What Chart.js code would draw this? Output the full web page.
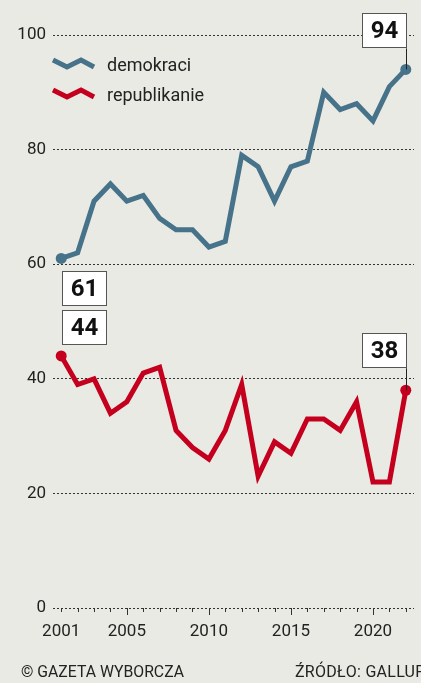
<!DOCTYPE html>
<html><head><meta charset="utf-8">
<style>html,body{margin:0;padding:0;background:#eaeae4;}canvas{display:block}</style>
<script src="https://cdn.jsdelivr.net/npm/chart.js@4"></script>
</head><body>
<canvas id="c" width="421" height="683"></canvas>
<script>
const years = ['2001','2002','2003','2004','2005','2006','2007','2008','2009','2010','2011','2012','2013','2014','2015','2016','2017','2018','2019','2020','2021','2022'];
const demokraci = [61,62,71,74,71,72,68,66,66,63,64,79,77,71,77,78,90,87,88,85,91,94];
const republikanie = [44,39,40,34,36,41,42,31,28,26,31,39,23,29,27,33,33,31,36,22,22,38];
const yTicks = [0,20,40,60,80,100];
const xLabelYears = ['2001','2005','2010','2015','2020'];
const majorYears = ['2005','2010','2015','2020'];
const seriesNames = ['demokraci','republikanie'];
const footerLeft = '© GAZETA WYBORCZA';
const footerRight = 'ŹRÓDŁO: GALLUP';

const BLUE = '#46728a';
const RED = '#c4001e';
const BG = '#eaeae4';
const FONT = "Roboto, 'Open Sans', sans-serif";

const endRadius = c => (c.dataIndex === 0 || c.dataIndex === years.length - 1) ? 5.5 : 0;

const bgPlugin = {
  id: 'bg',
  beforeDraw(chart) {
    const ctx = chart.ctx;
    ctx.save();
    ctx.fillStyle = BG;
    ctx.fillRect(0, 0, chart.width, chart.height);
    ctx.restore();
  }
};

function box(ctx, x, y, w, h, text) {
  ctx.save();
  ctx.fillStyle = '#ffffff';
  ctx.fillRect(x, y, w, h);
  ctx.strokeStyle = '#555';
  ctx.lineWidth = 1;
  ctx.strokeRect(x + 0.5, y + 0.5, w - 1, h - 1);
  ctx.fillStyle = '#111';
  ctx.font = "bold 24px " + FONT;
  ctx.textAlign = 'center';
  ctx.textBaseline = 'middle';
  ctx.fillText(text, x + w / 2, y + h / 2 + 1);
  ctx.restore();
}

const decorPlugin = {
  id: 'decor',
  afterDraw(chart) {
    const ctx = chart.ctx;
    const xs = chart.scales.x, ys = chart.scales.y;
    const bottom = ys.getPixelForValue(0);
    ctx.save();
    ctx.strokeStyle = '#333';
    ctx.lineWidth = 1;
    years.forEach((y, i) => {
      const px = Math.round(xs.getPixelForValue(i)) + 0.5;
      const len = majorYears.includes(y) ? 7 : 4;
      ctx.beginPath();
      ctx.moveTo(px, bottom);
      ctx.lineTo(px, bottom + len);
      ctx.stroke();
    });
    ctx.restore();

    const legend = [[BLUE, seriesNames[0], 59], [RED, seriesNames[1], 89]];
    legend.forEach(([col, name, top]) => {
      ctx.save();
      ctx.strokeStyle = col;
      ctx.lineWidth = 5;
      ctx.lineJoin = 'miter';
      ctx.beginPath();
      ctx.moveTo(53, top + 1);
      ctx.lineTo(67, top + 8);
      ctx.lineTo(81, top + 1);
      ctx.lineTo(94, top + 8);
      ctx.stroke();
      ctx.fillStyle = '#222';
      ctx.font = "18px " + FONT;
      ctx.textBaseline = 'alphabetic';
      ctx.fillText(name, 107, top + 12);
      ctx.restore();
    });

    const m0 = chart.getDatasetMeta(0).data;
    const m1 = chart.getDatasetMeta(1).data;
    const dLast = m0[m0.length - 1], dFirst = m0[0];
    const rLast = m1[m1.length - 1], rFirst = m1[0];
    const W = 45, H = 35;
    ctx.save();
    ctx.strokeStyle = '#222';
    ctx.lineWidth = 1;
    ctx.beginPath();
    ctx.moveTo(Math.round(dLast.x) + 0.5, dLast.y - 21);
    ctx.lineTo(Math.round(dLast.x) + 0.5, dLast.y);
    ctx.moveTo(Math.round(rLast.x) + 0.5, rLast.y - 22);
    ctx.lineTo(Math.round(rLast.x) + 0.5, rLast.y);
    ctx.stroke();
    ctx.restore();
    box(ctx, Math.round(dLast.x) - W + 1, Math.round(dLast.y) - 21 - H, W, H, String(demokraci[demokraci.length - 1]));
    box(ctx, Math.round(dFirst.x) + 1, Math.round(dFirst.y) + 13, W, H, String(demokraci[0]));
    box(ctx, Math.round(rFirst.x) + 1, Math.round(rFirst.y) - 46, W, H, String(republikanie[0]));
    box(ctx, Math.round(rLast.x) - W + 1, Math.round(rLast.y) - 22 - H, W, H, String(republikanie[republikanie.length - 1]));

    ctx.save();
    ctx.fillStyle = '#222';
    ctx.font = "16px " + FONT;
    ctx.textBaseline = 'alphabetic';
    ctx.fillText(footerLeft, 21, 677, 163);
    try { ctx.letterSpacing = '0.25px'; } catch (e) {}
    ctx.fillText(footerRight, 295, 677);
    ctx.restore();
  }
};

new Chart(document.getElementById('c'), {
  type: 'line',
  data: {
    labels: years,
    datasets: [
      { label: seriesNames[0], data: demokraci, borderColor: BLUE, backgroundColor: BLUE, borderWidth: 5,
        pointRadius: endRadius, pointHoverRadius: 0, pointBorderWidth: 0, tension: 0, borderJoinStyle: 'miter' },
      { label: seriesNames[1], data: republikanie, borderColor: RED, backgroundColor: RED, borderWidth: 5,
        pointRadius: endRadius, pointHoverRadius: 0, pointBorderWidth: 0, tension: 0, borderJoinStyle: 'miter' }
    ]
  },
  options: {
    responsive: false, animation: false, devicePixelRatio: 1, events: [],
    layout: { padding: { top: 35, right: 7, left: 0, bottom: 0 } },
    plugins: { legend: { display: false }, tooltip: { enabled: false } },
    scales: {
      x: {
        type: 'category', offset: true,
        grid: { display: false, drawTicks: false }, border: { display: false },
        ticks: { autoSkip: false, maxRotation: 0, padding: 14, color: '#222', font: { family: FONT, size: 17 },
          callback: function (v) { const l = this.getLabelForValue(v); return xLabelYears.includes(l) ? l : ''; } },
        afterFit: s => { s.height = 75; }
      },
      y: {
        min: 0, max: 100,
        afterBuildTicks: s => { s.ticks = yTicks.map(v => ({ value: v })); },
        grid: { color: '#333', lineWidth: 1, drawTicks: false },
        border: { display: false, dash: [2, 2] },
        ticks: { padding: 7, color: '#222', font: { family: FONT, size: 17 } },
        afterFit: s => { s.width = 53; }
      }
    }
  },
  plugins: [bgPlugin, decorPlugin]
});
</script>
</body></html>
